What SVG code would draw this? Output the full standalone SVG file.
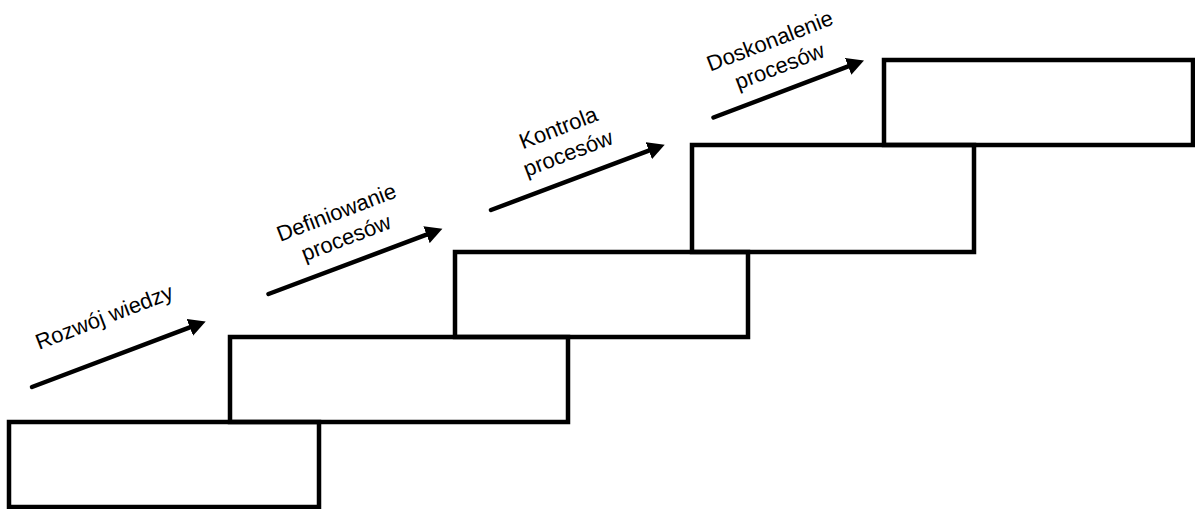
<svg xmlns="http://www.w3.org/2000/svg" width="1195" height="509" viewBox="0 0 1195 509">
<style>
.step{fill:none;stroke:#000;stroke-width:4.5;stroke-linejoin:miter}
.arr{fill:none;stroke:#000;stroke-width:4.5;stroke-linecap:round;marker-end:url(#head)}
.lbl{font-family:"Liberation Sans",Arial,sans-serif;font-size:22px;fill:#000;text-anchor:middle}
</style>
<defs>
<marker id="head" markerUnits="userSpaceOnUse" markerWidth="18" markerHeight="18" refX="4" refY="8.5" orient="auto" viewBox="0 0 17 17">
<path d="M0,0 L16,8.5 L0,17 z" fill="#000"/>
</marker>
</defs>
<rect width="1195" height="509" fill="#fff"/>
<g id="step1"><rect class="step" x="9" y="422" width="310" height="85"/></g>
<g id="step2"><rect class="step" x="230" y="337" width="338" height="85"/></g>
<g id="step3"><rect class="step" x="455" y="252" width="293" height="85"/></g>
<g id="step4"><rect class="step" x="692" y="145" width="282" height="107"/></g>
<g id="step5"><rect class="step" x="884" y="60" width="309" height="85"/></g>
<g id="connectors">
<line class="arr" x1="32" y1="387" x2="193.8" y2="325.9"/>
<line class="arr" x1="268.5" y1="294" x2="430.5" y2="233.2"/>
<line class="arr" x1="491" y1="210" x2="652.8" y2="149.2"/>
<line class="arr" x1="713.5" y1="117.5" x2="852.1" y2="64.9"/>
</g>
<g id="label1" transform="translate(104,316.5) rotate(-21)"><text class="lbl" x="0" y="8">Rozwój wiedzy</text></g>
<g id="label2" transform="translate(341,224.5) rotate(-21)"><text class="lbl" x="0" y="-5.5">Definiowanie</text><text class="lbl" x="0" y="21.5">procesów</text></g>
<g id="label3" transform="translate(563,140) rotate(-21)"><text class="lbl" x="0" y="-5.5">Kontrola</text><text class="lbl" x="0" y="21.5">procesów</text></g>
<g id="label4" transform="translate(774.5,53) rotate(-21)"><text class="lbl" x="0" y="-5.5">Doskonalenie</text><text class="lbl" x="0" y="21.5">procesów</text></g>
</svg>
